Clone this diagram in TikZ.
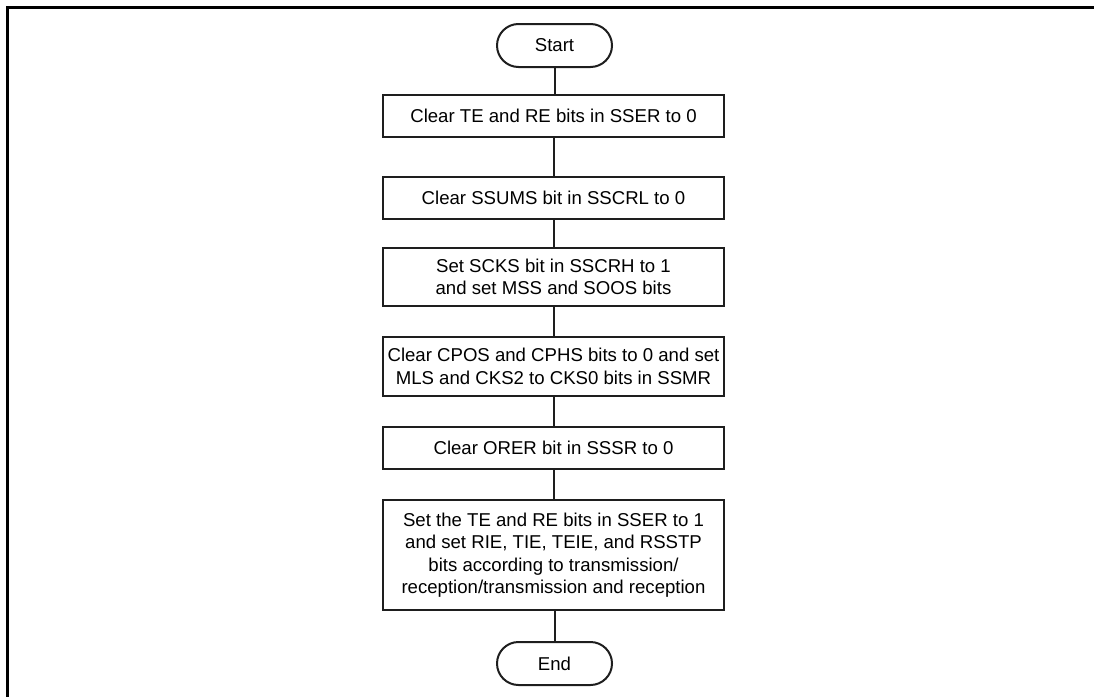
\documentclass[tikz,border=0pt]{standalone}
\usepackage{fontspec}
\setmainfont{Liberation Sans}
\usepackage{tikz}
\usetikzlibrary{positioning}
\definecolor{colL}{RGB}{30,30,30}

\begin{document}
\begin{tikzpicture}[
  x=1pt, y=-1pt,
  stepbox/.style={
    draw=colL, line width=2pt,
    minimum width=341pt, minimum height=42pt,
    font=\fontsize{18.6}{22.5}\selectfont, align=center, inner sep=2pt
  },
  term/.style={
    draw=colL, line width=2pt, rounded corners=21.5pt,
    minimum width=115pt, minimum height=43pt,
    font=\fontsize{18.6}{22.5}\selectfont
  },
  link/.style={line width=2pt,colL}
]
\useasboundingbox (0,0) rectangle (1094,696);

% outer frame (cut on right and bottom)
\draw[line width=3pt,black] (7.5,698) -- (7.5,7.5) -- (1096,7.5);

\node[term] (start) at (554.5,45.5) {Start};
\node[stepbox] (ste) at (553.5,116)
  {Clear TE and RE bits in SSER to 0};
\node[stepbox] (ums) at (553.5,197.5)
  {Clear SSUMS bit in SSCRL to 0};
\node[stepbox, minimum height=58pt] (cks) at (553.5,277)
  {Set SCKS bit in SSCRH to 1\\and set MSS and SOOS bits};
\node[stepbox, minimum height=59pt] (pos) at (553.5,366.5)
  {Clear CPOS and CPHS bits to 0 and set\\MLS and CKS2 to CKS0 bits in SSMR};
\node[stepbox] (orer) at (553.5,447.5)
  {Clear ORER bit in SSSR to 0};
\node[stepbox, minimum height=110pt] (tre) at (553.5,555)
  {Set the TE and RE bits in SSER to 1\\and set RIE, TIE, TEIE, and RSSTP\\bits according to transmission/\\reception/transmission and reception};
\node[term] (end) at (554.5,663.5) {End};

\draw[link] (start) -- (start |- ste.north);
\draw[link] (ste) -- (ums);
\draw[link] (ums) -- (cks);
\draw[link] (cks) -- (pos);
\draw[link] (pos) -- (orer);
\draw[link] (orer) -- (tre);
\draw[link] (tre.south -| end) -- (end);

\end{tikzpicture}
\end{document}
